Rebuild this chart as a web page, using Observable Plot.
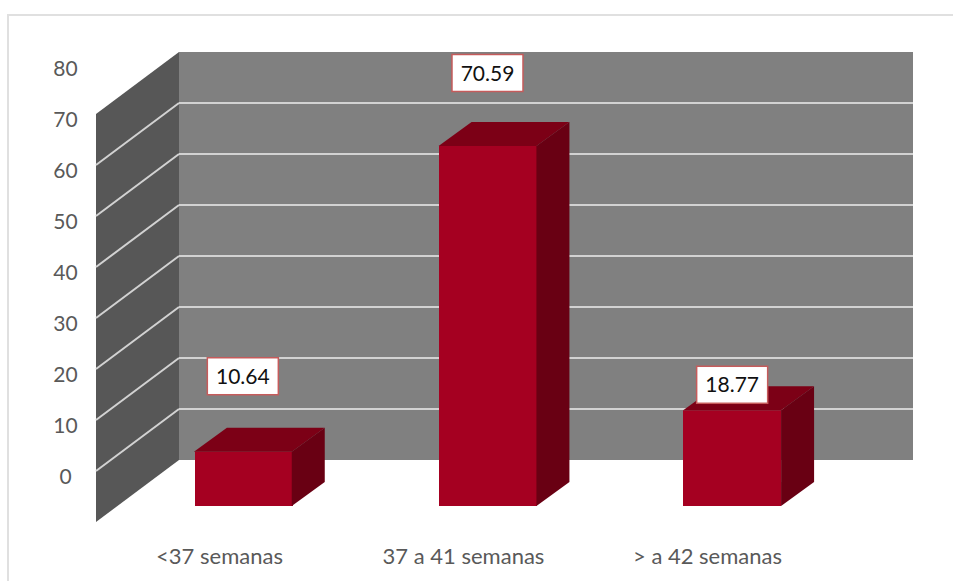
<!DOCTYPE html>
<html>
<head>
<meta charset="utf-8">
<script src="https://cdn.jsdelivr.net/npm/d3@7"></script>
<script src="https://cdn.jsdelivr.net/npm/@observablehq/plot@0.6"></script>
<style>
  body { margin: 0; background: #fff; }
  #chart { position: relative; width: 953px; height: 581px; overflow: hidden; }
  #chart .frame {
    position: absolute; left: 7px; top: 14px; width: 1000px; height: 620px;
    border: 2px solid #e0e0e0; box-sizing: border-box; pointer-events: none;
  }
</style>
</head>
<body>
<div id="chart"></div>
<script>
// Gestational age groups and their share (%)
const categories = ["<37 semanas", "37 a 41 semanas", "> a 42 semanas"];
const values = [10.64, 70.59, 18.77];
const yTicks = [0, 10, 20, 30, 40, 50, 60, 70, 80];
const gridValues = [10, 20, 30, 40, 50, 60, 70];

// Oblique projection: bars' front faces live in the "front" plane of the scales
const BACK = {dx: 63.5, dy: -46};   // front plane -> back wall
const SIDE = {dx: -83, dy: 62};     // back wall -> front edge of the side wall
const DEPTH = {dx: 33, dy: -24};    // thickness of each bar

const FONT = "Lato, 'Open Sans', sans-serif";

const xOpts = {type: "band", domain: categories, range: [115.5, 849.5],
               paddingInner: 0.6, paddingOuter: 0.3, align: 0.534};
const yOpts = {type: "linear", domain: [0, 80], range: [506, 98]};
const xs = Plot.scale({x: xOpts});
const ys = Plot.scale({y: yOpts});

const rows = categories.map((c, i) => ({c, v: values[i]}));

// Back wall, side wall and gridlines
function walls() {
  const g = d3.create("svg:g");
  const [r0, r1] = xs.range;
  const bx0 = r0 + BACK.dx, bx1 = r1 + BACK.dx;
  const yb = v => ys.apply(v) + BACK.dy;
  const [lo, hi] = ys.domain;
  g.append("polygon")
    .attr("points", [[bx0, yb(hi)], [bx0, yb(lo)], [bx0 + SIDE.dx, yb(lo) + SIDE.dy], [bx0 + SIDE.dx, yb(hi) + SIDE.dy]].join(" "))
    .attr("fill", "#575757");
  g.append("rect")
    .attr("x", bx0).attr("y", yb(hi))
    .attr("width", bx1 - bx0).attr("height", yb(lo) - yb(hi))
    .attr("fill", "#808080");
  for (const v of gridValues) {
    g.append("line").attr("x1", bx0).attr("x2", bx1).attr("y1", yb(v)).attr("y2", yb(v))
      .attr("stroke", "#d2d2d2").attr("stroke-width", 2);
    g.append("line").attr("x1", bx0).attr("x2", bx0 + SIDE.dx).attr("y1", yb(v)).attr("y2", yb(v) + SIDE.dy)
      .attr("stroke", "#d2d2d2").attr("stroke-width", 2);
  }
  return g.node();
}

// Top and right faces of each bar
function barFaces() {
  const g = d3.create("svg:g");
  const bw = xs.bandwidth;
  for (const d of rows) {
    const x0 = xs.apply(d.c), x1 = x0 + bw;
    const yt = ys.apply(d.v), y0 = ys.apply(0);
    g.append("polygon")
      .attr("points", [[x0, yt], [x0 + DEPTH.dx, yt + DEPTH.dy], [x1 + DEPTH.dx, yt + DEPTH.dy], [x1, yt]].join(" "))
      .attr("fill", "#7c0016");
    g.append("polygon")
      .attr("points", [[x1, yt], [x1 + DEPTH.dx, yt + DEPTH.dy], [x1 + DEPTH.dx, y0 + DEPTH.dy], [x1, y0]].join(" "))
      .attr("fill", "#690013");
  }
  return g.node();
}

// Value callouts above the bars
const labelLift = {"<37 semanas": -75.5, "37 a 41 semanas": -73, "> a 42 semanas": -25.5};
function valueLabels() {
  const g = d3.create("svg:g");
  const bw = xs.bandwidth;
  for (const d of rows) {
    const cx = xs.apply(d.c) + bw / 2;
    const cy = ys.apply(d.v) + labelLift[d.c];
    g.append("rect")
      .attr("x", cx - 35.5).attr("y", cy - 18.5).attr("width", 71).attr("height", 37)
      .attr("fill", "#fff").attr("stroke", "#c65b5b").attr("stroke-width", 1.5);
    g.append("text")
      .attr("x", cx).attr("y", cy).attr("dy", "0.36em")
      .attr("text-anchor", "middle")
      .attr("font-family", FONT).attr("font-size", 21).attr("fill", "#111")
      .text(d.v.toFixed(2));
  }
  return g.node();
}

const chart = Plot.plot({
  width: 953,
  height: 581,
  margin: 0,
  axis: null,
  x: xOpts,
  y: yOpts,
  style: {fontFamily: FONT, background: "#fff", overflow: "visible"},
  marks: [
    walls,
    Plot.barY(rows, {x: "c", y: "v", fill: "#a50021"}),
    barFaces,
    valueLabels,
    Plot.text(yTicks, {y: d => d, frameAnchor: "left", dx: 65, dy: -29.5,
      textAnchor: "middle", fontSize: 21, fill: "#595959"}),
    Plot.text(categories, {x: d => d, frameAnchor: "bottom", dx: -25, dy: -18,
      fontSize: 22, fill: "#595959"})
  ]
});

const host = document.getElementById("chart");
host.appendChild(chart);
const frame = document.createElement("div");
frame.className = "frame";
host.appendChild(frame);
</script>
</body>
</html>
